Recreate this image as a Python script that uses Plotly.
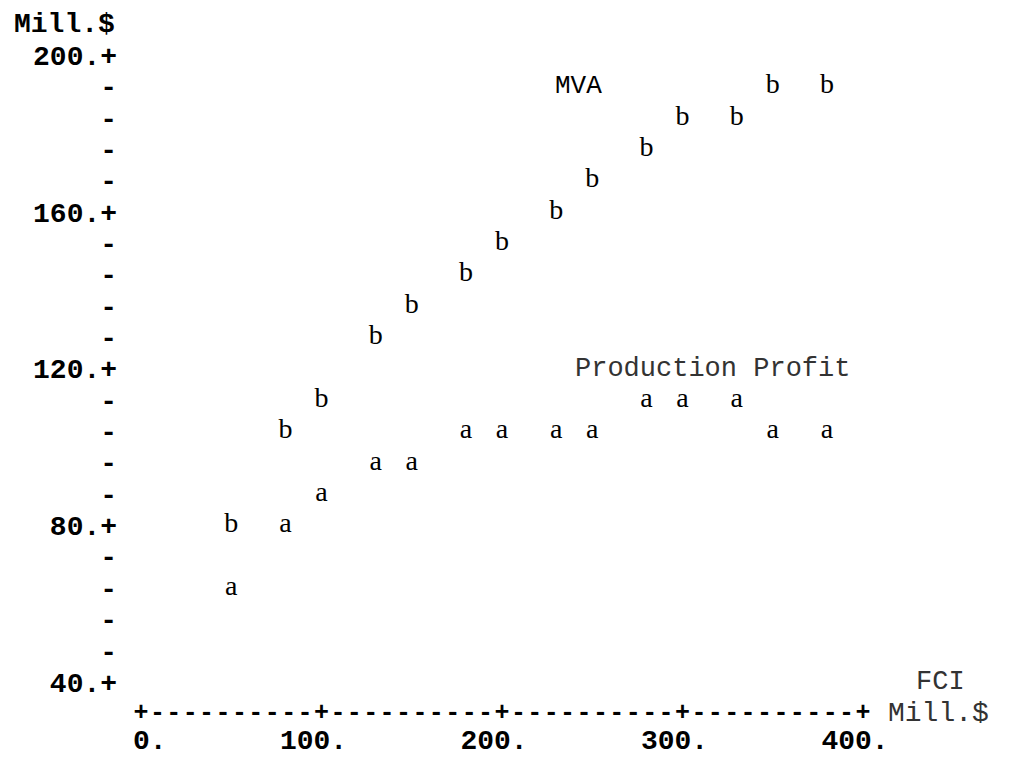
import plotly.graph_objects as go

# ---- data ----
fci = [50, 80, 100, 130, 150, 180, 200, 230, 250, 280, 300, 330, 350, 380]
mva = [80, 104, 112, 128, 136, 144, 152, 160, 168, 176, 184, 184, 192, 192]
profit = [64, 80, 88, 96, 96, 104, 104, 104, 104, 112, 112, 112, 104, 104]
mva_symbol = "b"
profit_symbol = "a"

y_major = [40, 80, 120, 160, 200]
y_minor_step = 8
x_major = [0, 100, 200, 300, 400]
x_labels = ["\u00a0\u00a00.", "100.", "200.", "300.", "400."]
x_cols_per_major = 11

# ---- geometry (pixel calibration; page body adds an 8px offset) ----
OFF = 8
W, H = 1016 - 2 * OFF, 764 - 2 * OFF
X0PX, XS = 141.0 - OFF, 1.805     # pixel of x=0, px per unit
Y200PX, YS = 55.0 - OFF, 3.919    # pixel of y=200, px per unit
XR = [-12.7, 460]
YR = [29.3, 210]

def xpx(v):
    return X0PX + v * XS

def ypx(v):
    return Y200PX + (200 - v) * YS

xdom = [xpx(XR[0]) / W, min(1.0, xpx(XR[1]) / W)]
ydom = [(H - ypx(YR[0])) / H, min(1.0, (H - ypx(YR[1])) / H)]

MONO = "Liberation Mono"
SERIF = "Liberation Serif"

# y ticks: majors "NNN.+" and minors "-"
ytv, ytt = [], []
v = y_major[0]
while v <= y_major[-1]:
    ytv.append(v)
    ytt.append(f"{v}.+" if v in y_major else "-")
    v += y_minor_step

# horizontal axis row of printer characters
row_x, row_t = [], []
ncols = (len(x_major) - 1) * x_cols_per_major
for i in range(ncols + 1):
    row_x.append(x_major[0] + i * (x_major[1] - x_major[0]) / x_cols_per_major)
    row_t.append("+" if i % x_cols_per_major == 0 else "-")
axis_row_y = y_major[0] - y_minor_step

fig = go.Figure()
fig.add_trace(go.Scatter(
    x=row_x, y=[axis_row_y] * len(row_x), text=row_t, mode="text",
    textfont=dict(family=MONO, size=25, color="black", weight="bold"),
    cliponaxis=False, hoverinfo="skip", showlegend=False))
fig.add_trace(go.Scatter(
    x=fci, y=profit, text=[profit_symbol] * len(fci), mode="text",
    name="Production Profit",
    textfont=dict(family=SERIF, size=28, color="black"),
    cliponaxis=False, showlegend=False))
fig.add_trace(go.Scatter(
    x=fci, y=mva, text=[mva_symbol] * len(fci), mode="text",
    name="MVA",
    textfont=dict(family=SERIF, size=28, color="black"),
    cliponaxis=False, showlegend=False))

fig.update_layout(
    width=W, height=H,
    margin=dict(l=0, r=0, t=0, b=0, autoexpand=False),
    paper_bgcolor="white", plot_bgcolor="white",
    xaxis=dict(domain=xdom, range=XR, showgrid=False, zeroline=False,
               automargin=False,
               showline=False, ticks="", tickvals=x_major, ticktext=x_labels,
               ticklabelshift=-8, ticklabelstandoff=-4,
               tickfont=dict(family=MONO, size=28, color="black", weight="bold")),
    yaxis=dict(domain=ydom, range=YR, showgrid=False, zeroline=False,
               automargin=False,
               showline=False, ticks="", tickvals=ytv, ticktext=ytt,
               tickfont=dict(family=MONO, size=28, color="black", weight="bold")),
    annotations=[
        dict(text="Mill.$", xref="paper", yref="paper", x=(117 - OFF) / W,
             y=(H - (25 - OFF)) / H,
             xanchor="right", yanchor="middle", showarrow=False,
             font=dict(family=MONO, size=28, color="black", weight="bold")),
        dict(text="MVA", xref="x", yref="y", x=228, y=192, xanchor="left",
             yanchor="middle", showarrow=False,
             font=dict(family=MONO, size=26, color="black")),
        dict(text="Production Profit", xref="x", yref="y", x=239.5, y=120,
             xanchor="left", yanchor="middle", showarrow=False,
             font=dict(family=MONO, size=27, color="#333333")),
        dict(text="FCI", xref="x", yref="y", x=443, y=y_major[0], xanchor="center",
             yanchor="middle", showarrow=False,
             font=dict(family=MONO, size=27, color="#333333")),
        dict(text="Mill.$", xref="x", yref="y", x=413, y=axis_row_y, xanchor="left",
             yanchor="middle", showarrow=False,
             font=dict(family=MONO, size=28, color="#333333")),
    ],
)

fig.write_html("out.html")
